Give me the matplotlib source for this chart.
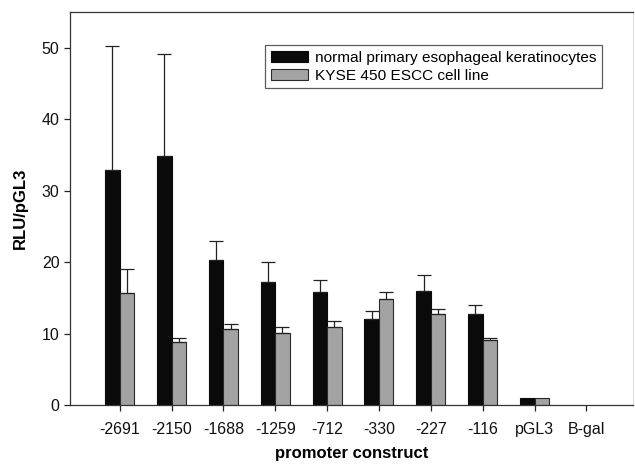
import numpy as np
import matplotlib.pyplot as plt

plt.rcParams['font.family'] = ['Liberation Sans', 'DejaVu Sans']

constructs = ['-2691', '-2150', '-1688', '-1259', '-712', '-330', '-227', '-116', 'pGL3', 'B-gal']
normal = [32.9, 34.8, 20.3, 17.2, 15.8, 12.0, 16.0, 12.8, 1.0, 0.0]
normal_err = [17.3, 14.4, 2.7, 2.8, 1.7, 1.2, 2.2, 1.2, 0.0, 0.0]
kyse = [15.7, 8.8, 10.6, 10.1, 10.9, 14.8, 12.7, 9.1, 1.0, 0.0]
kyse_err = [3.3, 0.6, 0.8, 0.8, 0.8, 1.0, 0.8, 0.3, 0.0, 0.0]

fig = plt.figure(figsize=(6.35, 4.65), dpi=100)
ax = fig.add_axes([0.110, 0.129, 0.887, 0.845])

x = np.arange(len(constructs))
w = 0.28
# no outline for empty bars (B-gal)
lw_n = [0.8 if v > 0 else 0 for v in normal]
lw_k = [0.8 if v > 0 else 0 for v in kyse]
ax.bar(x - w / 2, normal, w, color='#0a0a0a', edgecolor='#0a0a0a', linewidth=lw_n,
       label='normal primary esophageal keratinocytes')
ax.bar(x + w / 2, kyse, w, color='#a3a3a3', edgecolor='#2a2a2a', linewidth=lw_k,
       label='KYSE 450 ESCC cell line')

# upper-only error bars, skip the ones with no error
ekw = dict(fmt='none', ecolor='#222222', elinewidth=0.9, capsize=5, capthick=0.9)
for xs, vals, errs in [(x - w / 2, normal, normal_err), (x + w / 2, kyse, kyse_err)]:
    m = np.array(errs) > 0
    e = np.array(errs)[m]
    ax.errorbar(xs[m], np.array(vals)[m], yerr=[np.zeros_like(e), e], **ekw)

ax.set_xlim(-0.96, 9.9)
ax.set_ylim(0, 55)
ax.set_yticks([0, 10, 20, 30, 40, 50])
ax.set_xticks(x)
ax.set_xticklabels(constructs)
ax.tick_params(axis='both', labelsize=11.5, direction='out', length=4, width=0.9,
               colors='#222222', labelcolor='#111111')
ax.tick_params(axis='x', pad=8)
for s in ['left', 'bottom', 'top']:
    ax.spines[s].set_color('#333333')
    ax.spines[s].set_linewidth(0.9)
ax.spines['right'].set_color('#dddddd')

ax.set_ylabel('RLU/pGL3', fontsize=12, fontweight='bold', labelpad=10)
ax.set_xlabel('promoter construct', fontsize=12, fontweight='bold', labelpad=7)

leg = ax.legend(loc='upper left', bbox_to_anchor=(0.347, 0.915), fontsize=11.1, frameon=True,
                fancybox=False, edgecolor='#333333', borderpad=0.35, handlelength=2.4,
                handletextpad=0.5, labelspacing=0.25, borderaxespad=0)
leg.get_frame().set_linewidth(0.9)

fig.savefig('out.png', dpi=100)
